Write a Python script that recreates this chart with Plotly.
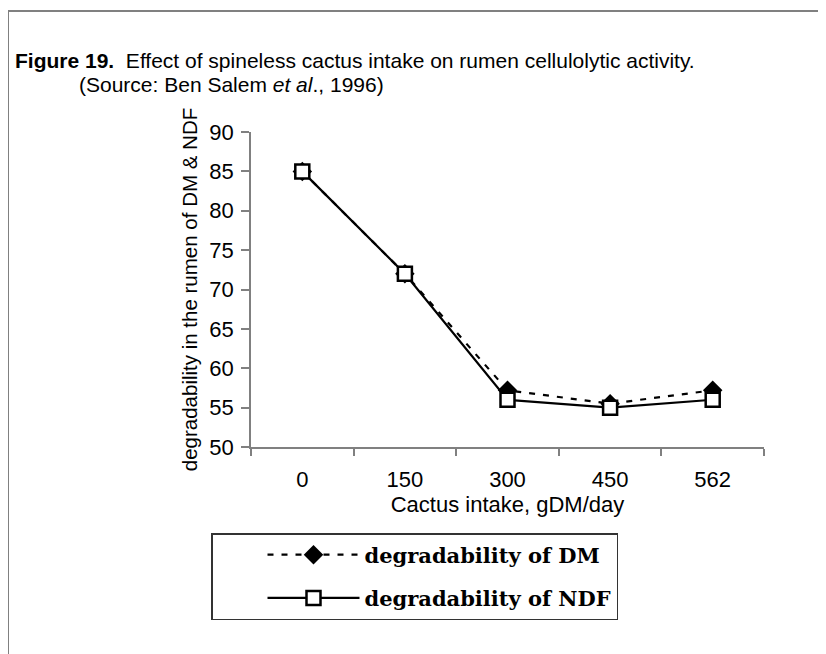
import plotly.graph_objects as go

# ---- data ----
categories = ["0", "150", "300", "450", "562"]
dm_values = [85, 72, 57.2, 55.5, 57.2]
ndf_values = [85, 72, 56, 55, 56]
dm_name = "degradability of DM"
ndf_name = "degradability of NDF"
x_title = "Cactus intake, gDM/day"
y_title = "degradability in the rumen of DM & NDF"
y_ticks = [50, 55, 60, 65, 70, 75, 80, 85, 90]

# the page body adds an 8px offset; layout numbers below are in screen pixels
OFF = 8
W, H = 826, 654
PL, PR, PT, PB = 251, 764, 132, 447          # plot area on screen
L, T = PL - OFF, PT - OFF
R, B = W - (PR - OFF), H - (PB - OFF)
PW, PH = PR - PL, PB - PT


def px_x(px):
    return (px - PL) / PW


def px_y(py):
    return (PB - py) / PH


fig = go.Figure()
fig.add_trace(go.Scatter(
    x=categories, y=dm_values, name=dm_name, mode="lines+markers",
    line=dict(color="black", width=2.2, dash="6px,8px"),
    marker=dict(symbol="diamond", size=15, color="black"),
    legendgroup="a",
))
fig.add_trace(go.Scatter(
    x=categories, y=ndf_values, name=ndf_name, mode="lines+markers",
    line=dict(color="black", width=2.2),
    marker=dict(symbol="square", size=14, color="white",
                line=dict(color="black", width=2.5)),
    legendgroup="b",
))

axis_font = dict(family="Liberation Sans, Arial", size=22, color="black")
ytitle_font = dict(family="Liberation Sans, Arial", size=20.5, color="black")
title_font = dict(family="Liberation Sans, Arial", size=21, color="black")

fig.update_layout(
    width=W, height=H,
    margin=dict(l=L, r=R, t=T, b=B, autoexpand=False),
    paper_bgcolor="white", plot_bgcolor="white",
    showlegend=True,
    legend=dict(
        x=px_x(211), y=px_y(533), xanchor="left", yanchor="top",
        bordercolor="#333333", borderwidth=1.5, bgcolor="white",
        font=dict(family="DejaVu Serif", size=21, color="black", weight="bold"),
        itemwidth=92, indentation=50, tracegroupgap=13,
        traceorder="grouped",
    ),
    xaxis=dict(
        type="category", range=[-0.5, 4.5], showgrid=False, zeroline=False,
        showline=True, linecolor="#808080", linewidth=1.5,
        ticks="outside", tickson="boundaries", ticklen=7, tickcolor="#808080",
        tickwidth=1.5, tickfont=axis_font, ticklabelstandoff=12,
        title=dict(text=x_title, font=axis_font, standoff=3),
    ),
    yaxis=dict(
        range=[50, 90], tickvals=y_ticks, showgrid=False, zeroline=False,
        showline=True, linecolor="#808080", linewidth=1.5,
        ticks="outside", ticklen=8, tickcolor="#808080", tickwidth=1.5,
        tickfont=axis_font, ticklabelstandoff=3,
        title=dict(text=y_title, font=ytitle_font, standoff=6),
    ),
    shapes=[dict(
        type="rect", xref="paper", yref="paper",
        x0=px_x(8), x1=px_x(850), y0=px_y(680), y1=px_y(11),
        line=dict(color="#808080", width=2), fillcolor="rgba(0,0,0,0)",
        layer="below",
    )],
    annotations=[
        dict(text="<b>Figure 19.</b>  Effect of spineless cactus intake on rumen cellulolytic activity.",
             xref="paper", yref="paper", x=px_x(13), y=px_y(61),
             xanchor="left", yanchor="middle", showarrow=False,
             font=title_font),
        dict(text="(Source: Ben Salem <i>et al</i>., 1996)",
             xref="paper", yref="paper", x=px_x(77), y=px_y(84),
             xanchor="left", yanchor="middle", showarrow=False,
             font=title_font),
    ],
)

fig.write_html("out.html")
